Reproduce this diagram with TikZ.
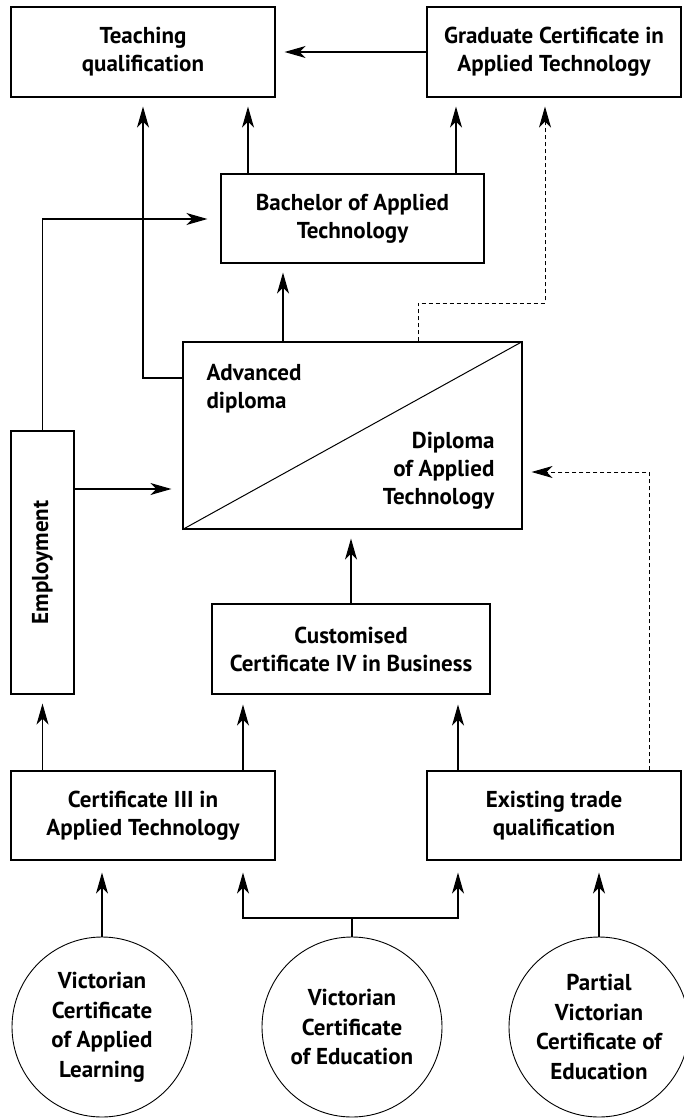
\documentclass[tikz,border=0pt]{standalone}
\usepackage{fontspec}
\setmainfont{PT Sans}
\usetikzlibrary{arrows.meta}
\begin{document}
\begin{tikzpicture}[x=1pt,y=-1pt,line width=1.15pt,
  txt/.style={font=\bfseries\fontsize{23}{28}\selectfont},
  box/.style={draw,rectangle,inner sep=0pt,align=center,txt},
  circ/.style={draw,circle,inner sep=0pt,minimum size=180pt,align=center,line width=0.9pt,font=\bfseries\fontsize{23}{29.5}\selectfont},
  arr/.style={-{Stealth[length=21pt,width=12pt,inset=6pt]}},
  dsh/.style={dash pattern=on 4pt off 3pt,line width=0.9pt}]
\useasboundingbox (0,0) rectangle (683,1118);
% boxes
\node[box,minimum width=264pt,minimum height=90pt] (teach) at (143,52) {Teaching\\qualification};
\node[box,minimum width=254pt,minimum height=90pt] (grad) at (554,52) {Graduate Certificate in\\Applied Technology};
\node[box,minimum width=263pt,minimum height=89pt] (bach) at (352.5,218.5) {Bachelor of Applied\\Technology};
\node[box,minimum width=339pt,minimum height=187pt] (big) at (352.5,435.5) {};
\draw[line width=1pt] (big.south west) -- (big.north east);
\node[txt,anchor=north west,inner sep=0pt,align=left] (adv) at (206,364) {Advanced\\diploma};
\node[txt,anchor=north east,inner sep=0pt,align=right] (dip) at (495,432) {Diploma\\of Applied\\Technology};
\node[box,minimum width=63pt,minimum height=263pt] (emp) at (42.5,562.5) {};
\node[txt,rotate=90,inner sep=0pt] (emptext) at (emp.center) {Employment};
\node[box,minimum width=278pt,minimum height=90pt] (cust) at (351,649) {Customised\\Certificate IV in Business};
\node[box,minimum width=264pt,minimum height=89pt] (cert) at (143,815.5) {Certificate III in\\Applied Technology};
\node[box,minimum width=254pt,minimum height=89pt] (exist) at (554,815.5) {Existing trade\\qualification};
\node[circ] (vcal) at (102,1027) {Victorian\\Certificate\\of Applied\\Learning};
\node[circ] (vce) at (352,1027) {Victorian\\Certificate\\of Education};
\node[circ] (pvce) at (599,1027) {Partial\\Victorian\\Certificate of\\Education};
% connectors
\draw[arr,shorten >=9pt] (grad.west) -- (teach.east);
\draw[arr,shorten >=9pt] (bach.north -| 248,0) -- (teach.south -| 248,0);
\draw[arr,shorten >=9pt] (bach.north -| 456,0) -- (grad.south -| 456,0);
\draw[arr,shorten >=9pt] (big.west |- 0,378) -- (143,378) -- (teach.south -| 143,0);
\draw[arr,shorten >=9pt] (big.north -| 283,0) -- (bach.south -| 283,0);
\draw[dsh,arr,shorten >=9pt] (big.north -| 418,0) -- (418,303) -- (545,303) -- (grad.south -| 545,0);
\draw[arr,shorten >=13pt] (emp.north) -- (42.5,219) -- (bach.west |- 0,219);
\draw[arr,shorten >=11pt] (emp.east |- 0,489) -- (big.west |- 0,489);
\draw[arr,shorten >=9pt] (cust.north) -- (big.south -| cust.north);
\draw[arr,shorten >=9pt] (cert.north -| emp.south) -- (emp.south);
\draw[arr,shorten >=10pt] (cert.north -| 243,0) -- (cust.south -| 243,0);
\draw[arr,shorten >=10pt] (exist.north -| 458,0) -- (cust.south -| 458,0);
\draw[dsh,arr,shorten >=9pt] (exist.north -| 649,0) -- (649,472) -- (big.east |- 0,472);
\draw[arr,shorten >=12pt] (vcal.north) -- (cert.south -| vcal.north);
\coordinate (split) at (352,918);
\draw (vce.north) -- (split);
\draw[arr,shorten >=12pt] (split) -- (243,918) -- (cert.south -| 243,0);
\draw[arr,shorten >=12pt] (split) -- (458,918) -- (exist.south -| 458,0);
\draw[arr,shorten >=12pt] (pvce.north) -- (exist.south -| pvce.north);
\end{tikzpicture}
\end{document}
